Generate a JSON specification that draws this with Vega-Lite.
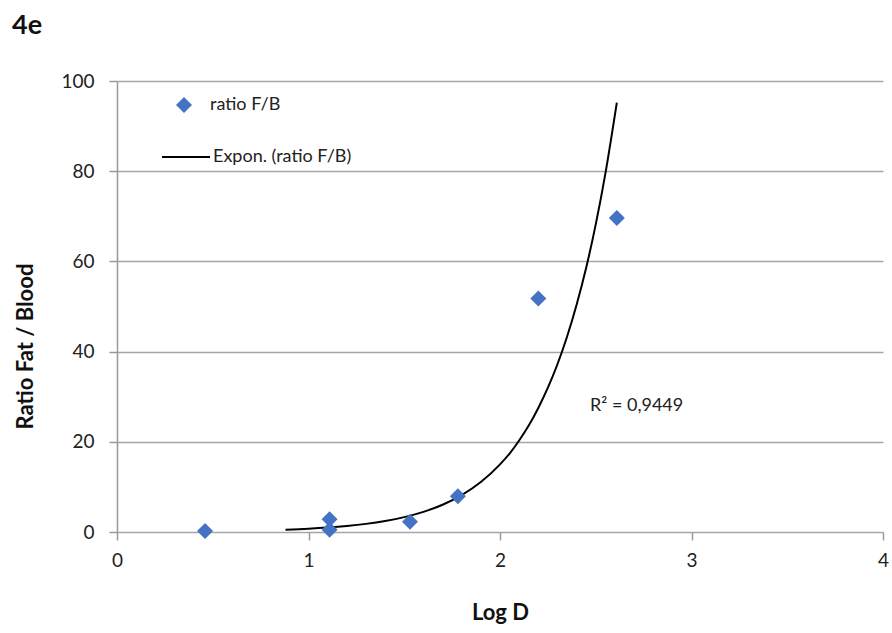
{
  "$schema": "https://vega.github.io/schema/vega-lite/v6.json",
  "autosize": {"type": "none"},
  "width": 766,
  "height": 451,
  "padding": {"left": 117, "top": 81, "right": 9, "bottom": 101},
  "background": "white",
  "config": {
    "font": "Lato",
    "view": {"stroke": null},
    "axis": {"labelFont": "Lato", "titleFont": "Lato", "labelColor": "#222", "titleColor": "#111"},
    "legend": {"labelFont": "Lato", "labelColor": "#222", "labelFontSize": 18}
  },
  "title": {"text": "4e", "anchor": "start", "frame": "bounds", "fontSize": 27, "font": "Lato", "fontWeight": "bold", "color": "#111", "offset": 32, "dx": -2},
  "datasets": {
    "points": [
      {"logD": 0.46, "ratio": 0.2, "series": "ratio F/B"},
      {"logD": 1.11, "ratio": 2.8, "series": "ratio F/B"},
      {"logD": 1.11, "ratio": 0.5, "series": "ratio F/B"},
      {"logD": 1.53, "ratio": 2.3, "series": "ratio F/B"},
      {"logD": 1.78, "ratio": 7.9, "series": "ratio F/B"},
      {"logD": 2.2, "ratio": 51.8, "series": "ratio F/B"},
      {"logD": 2.61, "ratio": 69.6, "series": "ratio F/B"}
    ],
    "trend": [
      {"logD": 0.88, "ratio": 0.5, "series": "Expon. (ratio F/B)"},
      {"logD": 1.0, "ratio": 0.72, "series": "Expon. (ratio F/B)"},
      {"logD": 1.1, "ratio": 0.98, "series": "Expon. (ratio F/B)"},
      {"logD": 1.2, "ratio": 1.33, "series": "Expon. (ratio F/B)"},
      {"logD": 1.3, "ratio": 1.8, "series": "Expon. (ratio F/B)"},
      {"logD": 1.4, "ratio": 2.44, "series": "Expon. (ratio F/B)"},
      {"logD": 1.5, "ratio": 3.3, "series": "Expon. (ratio F/B)"},
      {"logD": 1.6, "ratio": 4.46, "series": "Expon. (ratio F/B)"},
      {"logD": 1.7, "ratio": 6.05, "series": "Expon. (ratio F/B)"},
      {"logD": 1.8, "ratio": 8.18, "series": "Expon. (ratio F/B)"},
      {"logD": 1.9, "ratio": 11.07, "series": "Expon. (ratio F/B)"},
      {"logD": 2.0, "ratio": 14.99, "series": "Expon. (ratio F/B)"},
      {"logD": 2.05, "ratio": 17.4, "series": "Expon. (ratio F/B)"},
      {"logD": 2.1, "ratio": 20.3, "series": "Expon. (ratio F/B)"},
      {"logD": 2.15, "ratio": 23.6, "series": "Expon. (ratio F/B)"},
      {"logD": 2.2, "ratio": 27.5, "series": "Expon. (ratio F/B)"},
      {"logD": 2.25, "ratio": 32.0, "series": "Expon. (ratio F/B)"},
      {"logD": 2.3, "ratio": 37.2, "series": "Expon. (ratio F/B)"},
      {"logD": 2.35, "ratio": 43.3, "series": "Expon. (ratio F/B)"},
      {"logD": 2.4, "ratio": 50.4, "series": "Expon. (ratio F/B)"},
      {"logD": 2.45, "ratio": 58.6, "series": "Expon. (ratio F/B)"},
      {"logD": 2.5, "ratio": 68.2, "series": "Expon. (ratio F/B)"},
      {"logD": 2.55, "ratio": 79.4, "series": "Expon. (ratio F/B)"},
      {"logD": 2.61, "ratio": 95.2, "series": "Expon. (ratio F/B)"}
    ],
    "note": [
      {"logD": 2.47, "ratio": 28.0, "label": "R² = 0,9449"}
    ]
  },
  "layer": [
    {
      "data": {"name": "trend"},
      "mark": {"type": "line", "strokeWidth": 2, "interpolate": "monotone", "clip": false},
      "encoding": {
        "x": {"field": "logD", "type": "quantitative"},
        "y": {"field": "ratio", "type": "quantitative"},
        "color": {
          "field": "series", "type": "nominal",
          "scale": {"domain": ["Expon. (ratio F/B)"], "range": ["#000000"]},
          "legend": {
            "title": null, "orient": "none", "legendX": 44, "legendY": 51,
            "symbolType": "stroke", "symbolSize": 2304, "symbolStrokeWidth": 2,
            "labelOffset": 2, "labelFontSize": 18
          }
        }
      }
    },
    {
      "data": {"name": "points"},
      "mark": {"type": "point", "filled": true, "size": 256, "opacity": 1, "color": "#4472C4"},
      "encoding": {
        "x": {
          "field": "logD", "type": "quantitative",
          "scale": {"domain": [0, 4], "nice": false, "zero": false},
          "axis": {
            "title": "Log D", "titleFontSize": 22, "titleFontWeight": "bold",
            "titleY": 80, "titleBaseline": "middle",
            "values": [0, 1, 2, 3, 4], "format": "d", "labelFontSize": 19, "labelPadding": 11,
            "labelFlush": false, "labelOverlap": false,
            "tickSize": 8, "tickColor": "#999", "tickWidth": 1.5,
            "domain": false, "grid": false
          }
        },
        "y": {
          "field": "ratio", "type": "quantitative",
          "scale": {"domain": [0, 100], "nice": false},
          "axis": {
            "title": "Ratio Fat / Blood", "titleFontSize": 22, "titleFontWeight": "bold",
            "titleX": -92, "titleY": 265, "titleAngle": -90, "titleBaseline": "middle", "titleAlign": "center",
            "values": [0, 20, 40, 60, 80, 100], "format": "d", "labelFontSize": 19, "labelPadding": 15,
            "labelFlush": false, "labelOverlap": false,
            "tickSize": 8, "tickColor": "#999", "tickWidth": 1.5,
            "domain": true, "domainColor": "#999", "domainWidth": 1.5,
            "grid": true, "gridColor": "#a6a6a6", "gridWidth": 1.5
          }
        },
        "shape": {
          "field": "series", "type": "nominal",
          "scale": {"domain": ["ratio F/B"], "range": ["diamond"]},
          "legend": {
            "title": null, "orient": "none", "legendX": 42, "legendY": 15,
            "symbolSize": 256, "symbolFillColor": "#4472C4", "symbolStrokeColor": "#4472C4",
            "symbolOpacity": 1, "labelOffset": 17, "labelFontSize": 18,
            "symbolOffset": 16
          }
        }
      }
    },
    {
      "data": {"name": "note"},
      "mark": {"type": "text", "fontSize": 18, "font": "Lato", "color": "#222", "align": "left", "baseline": "middle"},
      "encoding": {
        "x": {"field": "logD", "type": "quantitative"},
        "y": {"field": "ratio", "type": "quantitative"},
        "text": {"field": "label"}
      }
    }
  ]
}
